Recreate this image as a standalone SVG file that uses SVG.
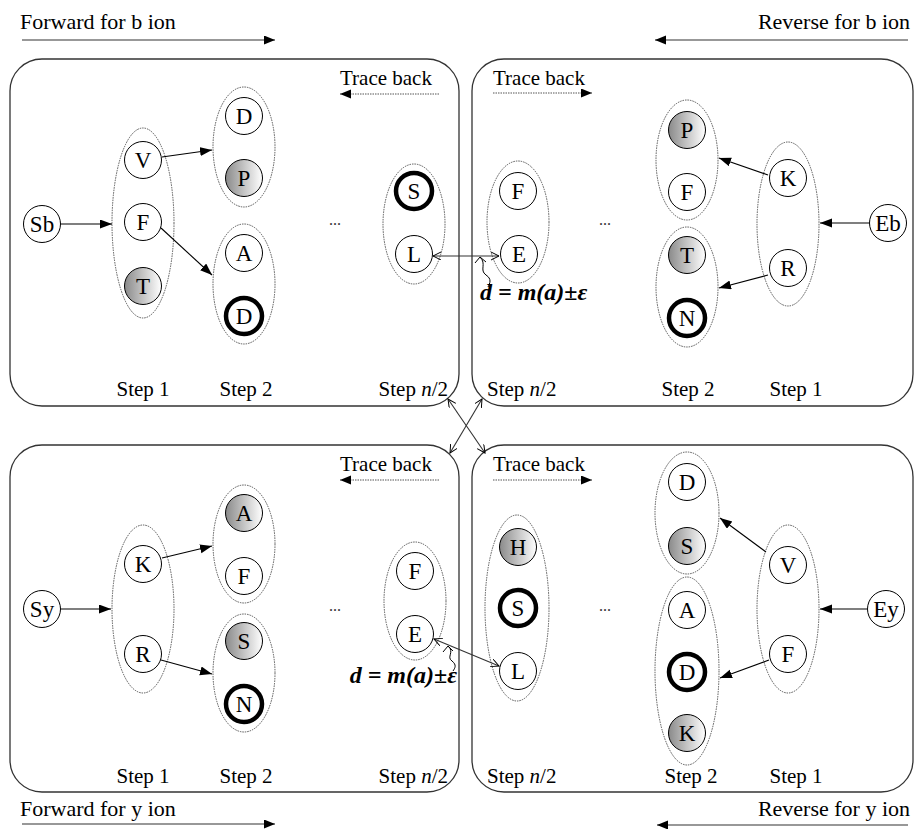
<svg xmlns="http://www.w3.org/2000/svg" width="914" height="829" viewBox="0 0 914 829">
  <defs>
    <linearGradient id="shade" x1="0" y1="0" x2="1" y2="0">
      <stop offset="0" stop-color="#8a8a8a"/>
      <stop offset="1" stop-color="#ffffff"/>
    </linearGradient>
    <marker id="head" markerUnits="userSpaceOnUse" markerWidth="13" markerHeight="10" refX="12" refY="4.5" orient="auto">
      <path d="M0,0 L12,4.5 L0,9 z" fill="#000"/>
    </marker>
    <marker id="headSmall" markerUnits="userSpaceOnUse" markerWidth="12" markerHeight="10" refX="11" refY="4.5" orient="auto">
      <path d="M0,0 L11,4.5 L0,9 z" fill="#000"/>
    </marker>
    <marker id="open" markerUnits="userSpaceOnUse" markerWidth="10" markerHeight="10" refX="8" refY="4" orient="auto-start-reverse">
      <path d="M0,0 L8,4 L0,8" fill="none" stroke="#000" stroke-width="1"/>
    </marker>
  </defs>
  <style>
    text { font-family: "Liberation Serif", "Times New Roman", serif; fill: #000; }
    .lbl { font-size: 21px; }
    .cap { font-size: 22px; }
    .node circle { fill: #fff; stroke: #000; stroke-width: 1; }
    .node.shaded circle { fill: url(#shade); }
    .node.bold circle { stroke-width: 4.5; }
    .node text { font-size: 23px; text-anchor: middle; }
    .group { fill: none; stroke: #555; stroke-width: 1; stroke-dasharray: 1.5 1; }
    .panel { fill: none; stroke: #333; stroke-width: 1.3; }
    .edge { stroke: #000; stroke-width: 1.1; fill: none; marker-end: url(#head); }
    .dir { stroke: #333; stroke-width: 1.2; fill: none; marker-end: url(#headSmall); }
    .trace { stroke: #555; stroke-width: 1; stroke-dasharray: 1.5 1; fill: none; marker-end: url(#headSmall); }
    .link { stroke: #333; stroke-width: 1.1; fill: none; marker-start: url(#open); marker-end: url(#open); }
    .note { font-size: 24px; font-weight: bold; font-style: italic; }
    .dots { font-size: 16px; fill: #333; text-anchor: middle; }
    .mid { text-anchor: middle; }
  </style>

  <!-- direction captions -->
  <g id="captions">
    <text class="cap" x="20" y="29">Forward for b ion</text>
    <text class="cap" x="910" y="29" text-anchor="end">Reverse for b ion</text>
    <text class="cap" x="20" y="816">Forward for y ion</text>
    <text class="cap" x="910" y="816" text-anchor="end">Reverse for y ion</text>
  </g>

  <!-- the four search panels -->
  <g id="panels">
    <rect id="panel-b-forward" class="panel" x="10" y="59" width="449" height="347" rx="32"/>
    <rect id="panel-b-reverse" class="panel" x="472" y="59" width="441" height="347" rx="32"/>
    <rect id="panel-y-forward" class="panel" x="10" y="445" width="449" height="347" rx="32"/>
    <rect id="panel-y-reverse" class="panel" x="472" y="445" width="441" height="347" rx="32"/>
  </g>

  <!-- candidate groups per step -->
  <g id="groups">
    <ellipse class="group" cx="143" cy="223" rx="31" ry="95"/>
    <ellipse class="group" cx="244" cy="147" rx="31" ry="60"/>
    <ellipse class="group" cx="244" cy="284" rx="31" ry="60"/>
    <ellipse class="group" cx="414" cy="224" rx="31" ry="60"/>
    <ellipse class="group" cx="518" cy="222" rx="31" ry="61"/>
    <ellipse class="group" cx="687" cy="160" rx="31" ry="60"/>
    <ellipse class="group" cx="687" cy="287" rx="31" ry="60"/>
    <ellipse class="group" cx="788" cy="224" rx="31" ry="82"/>

    <ellipse class="group" cx="143" cy="609" rx="31" ry="84"/>
    <ellipse class="group" cx="244" cy="544" rx="31" ry="59"/>
    <ellipse class="group" cx="244" cy="673" rx="31" ry="59"/>
    <ellipse class="group" cx="415" cy="601" rx="31" ry="59"/>
    <ellipse class="group" cx="517" cy="608" rx="32" ry="93"/>
    <ellipse class="group" cx="687" cy="513" rx="32" ry="61"/>
    <ellipse class="group" cx="687" cy="671" rx="32" ry="94"/>
    <ellipse class="group" cx="788" cy="609" rx="31" ry="84"/>
  </g>

  <!-- connectors -->
  <g id="connectors">
    <line class="dir" x1="22" y1="40" x2="275" y2="40"/>
    <line class="dir" x1="908" y1="40" x2="655" y2="40"/>
    <line class="dir" x1="22" y1="824" x2="275" y2="824"/>
    <line class="dir" x1="908" y1="825" x2="657" y2="825"/>

    <line class="trace" x1="439" y1="94" x2="340" y2="94"/>
    <line class="trace" x1="493" y1="93" x2="592" y2="93"/>
    <line class="trace" x1="439" y1="480" x2="340" y2="480"/>
    <line class="trace" x1="493" y1="480" x2="592" y2="480"/>

    <line class="edge" x1="61" y1="224" x2="112" y2="224"/>
    <line class="edge" x1="162" y1="157" x2="212" y2="150"/>
    <line class="edge" x1="161" y1="228" x2="212" y2="275"/>
    <line class="edge" x1="768" y1="175" x2="719" y2="158"/>
    <line class="edge" x1="768" y1="275" x2="719" y2="288"/>
    <line class="edge" x1="869" y1="223" x2="820" y2="223"/>

    <line class="edge" x1="61" y1="609" x2="111" y2="609"/>
    <line class="edge" x1="162" y1="558" x2="212" y2="546"/>
    <line class="edge" x1="161" y1="660" x2="212" y2="674"/>
    <line class="edge" x1="867" y1="609" x2="820" y2="609"/>
    <line class="edge" x1="766" y1="552" x2="720" y2="518"/>
    <line class="edge" x1="769" y1="660" x2="720" y2="678"/>

    <!-- mass-difference joins between the halves -->
    <line class="link" x1="433" y1="256" x2="499" y2="256"/>
    <line class="link" x1="434" y1="639" x2="499" y2="666"/>
    <line class="link" x1="448" y1="399" x2="485" y2="453"/>
    <line class="link" x1="482" y1="399" x2="450" y2="453"/>

    <!-- callout squiggles -->
    <path d="M475,263 L480,257 L486,262" fill="none" stroke="#000" stroke-width="1"/>
    <path d="M480,257 C487,264 479,270 486,275 C492,279 490,283 488,287" fill="none" stroke="#000" stroke-width="1"/>
    <path d="M443,652 L448,646 L453,651" fill="none" stroke="#000" stroke-width="1"/>
    <path d="M448,646 C455,652 446,657 452,661 C457,665 455,668 453,671" fill="none" stroke="#000" stroke-width="1"/>
  </g>

  <!-- panel b, forward -->
  <g id="node-Sb" class="node"><circle cx="42" cy="224" r="18.5"/><text x="42" y="232">Sb</text></g>
  <g id="node-b1-V" class="node"><circle cx="143" cy="160" r="18.5"/><text x="143" y="168">V</text></g>
  <g id="node-b1-F" class="node"><circle cx="143" cy="222" r="18.5"/><text x="143" y="230">F</text></g>
  <g id="node-b1-T" class="node shaded"><circle cx="143" cy="286" r="18.5"/><text x="143" y="294">T</text></g>
  <g id="node-b2-D" class="node"><circle cx="244" cy="116" r="18.5"/><text x="244" y="124">D</text></g>
  <g id="node-b2-P" class="node shaded"><circle cx="244" cy="178" r="18.5"/><text x="244" y="186">P</text></g>
  <g id="node-b2-A" class="node"><circle cx="244" cy="253" r="18.5"/><text x="244" y="261">A</text></g>
  <g id="node-b2-D2" class="node bold"><circle cx="244" cy="316" r="18"/><text x="244" y="324">D</text></g>
  <g id="node-bn-S" class="node bold"><circle cx="414" cy="191" r="18"/><text x="414" y="199">S</text></g>
  <g id="node-bn-L" class="node"><circle cx="414" cy="254" r="18.5"/><text x="414" y="262">L</text></g>

  <!-- panel b, reverse -->
  <g id="node-rb-F" class="node"><circle cx="518" cy="191" r="18.5"/><text x="518" y="199">F</text></g>
  <g id="node-rb-E" class="node"><circle cx="519" cy="254" r="18.5"/><text x="519" y="262">E</text></g>
  <g id="node-rb2-P" class="node shaded"><circle cx="687" cy="130" r="18.5"/><text x="687" y="138">P</text></g>
  <g id="node-rb2-F" class="node"><circle cx="687" cy="192" r="18.5"/><text x="687" y="200">F</text></g>
  <g id="node-rb2-T" class="node shaded"><circle cx="687" cy="255" r="18.5"/><text x="687" y="263">T</text></g>
  <g id="node-rb2-N" class="node bold"><circle cx="687" cy="318" r="18"/><text x="687" y="326">N</text></g>
  <g id="node-rb1-K" class="node"><circle cx="788" cy="178" r="18.5"/><text x="788" y="186">K</text></g>
  <g id="node-rb1-R" class="node"><circle cx="788" cy="268" r="18.5"/><text x="788" y="276">R</text></g>
  <g id="node-Eb" class="node"><circle cx="888" cy="223" r="18.5"/><text x="888" y="231">Eb</text></g>

  <!-- panel y, forward -->
  <g id="node-Sy" class="node"><circle cx="42" cy="609" r="18.5"/><text x="42" y="617">Sy</text></g>
  <g id="node-y1-K" class="node"><circle cx="143" cy="564" r="18.5"/><text x="143" y="572">K</text></g>
  <g id="node-y1-R" class="node"><circle cx="143" cy="654" r="18.5"/><text x="143" y="662">R</text></g>
  <g id="node-y2-A" class="node shaded"><circle cx="244" cy="513" r="18.5"/><text x="244" y="521">A</text></g>
  <g id="node-y2-F" class="node"><circle cx="244" cy="576" r="18.5"/><text x="244" y="584">F</text></g>
  <g id="node-y2-S" class="node shaded"><circle cx="244" cy="641" r="18.5"/><text x="244" y="649">S</text></g>
  <g id="node-y2-N" class="node bold"><circle cx="244" cy="704" r="18"/><text x="244" y="712">N</text></g>
  <g id="node-yn-F" class="node"><circle cx="415" cy="571" r="18.5"/><text x="415" y="579">F</text></g>
  <g id="node-yn-E" class="node"><circle cx="415" cy="634" r="18.5"/><text x="415" y="642">E</text></g>

  <!-- panel y, reverse -->
  <g id="node-ry-H" class="node shaded"><circle cx="518" cy="547" r="18.5"/><text x="518" y="555">H</text></g>
  <g id="node-ry-S" class="node bold"><circle cx="518" cy="608" r="18"/><text x="518" y="616">S</text></g>
  <g id="node-ry-L" class="node"><circle cx="518" cy="671" r="18.5"/><text x="518" y="679">L</text></g>
  <g id="node-ry2-D" class="node"><circle cx="687" cy="482" r="18.5"/><text x="687" y="490">D</text></g>
  <g id="node-ry2-S" class="node shaded"><circle cx="687" cy="546" r="18.5"/><text x="687" y="554">S</text></g>
  <g id="node-ry2-A" class="node"><circle cx="687" cy="610" r="18.5"/><text x="687" y="618">A</text></g>
  <g id="node-ry2-D2" class="node bold"><circle cx="687" cy="672" r="18"/><text x="687" y="680">D</text></g>
  <g id="node-ry2-K" class="node shaded"><circle cx="687" cy="733" r="18.5"/><text x="687" y="741">K</text></g>
  <g id="node-ry1-V" class="node"><circle cx="788" cy="565" r="18.5"/><text x="788" y="573">V</text></g>
  <g id="node-ry1-F" class="node"><circle cx="788" cy="654" r="18.5"/><text x="788" y="662">F</text></g>
  <g id="node-Ey" class="node"><circle cx="886" cy="609" r="18.5"/><text x="886" y="617">Ey</text></g>

  <!-- labels inside panels -->
  <g id="labels">
    <text class="lbl" x="340" y="85">Trace back</text>
    <text class="lbl" x="493" y="85">Trace back</text>
    <text class="lbl" x="340" y="471">Trace back</text>
    <text class="lbl" x="493" y="471">Trace back</text>

    <text class="dots" x="335" y="225">...</text>
    <text class="dots" x="605" y="225">...</text>
    <text class="dots" x="335" y="611">...</text>
    <text class="dots" x="605" y="611">...</text>

    <text class="note" x="480" y="300">d = m(a)±ε</text>
    <text class="note" x="457" y="683" text-anchor="end">d = m(a)±ε</text>

    <text class="lbl mid" x="143" y="396">Step 1</text>
    <text class="lbl mid" x="246" y="396">Step 2</text>
    <text class="lbl" x="448" y="396" text-anchor="end">Step <tspan font-style="italic">n</tspan>/2</text>
    <text class="lbl" x="487" y="396">Step <tspan font-style="italic">n</tspan>/2</text>
    <text class="lbl mid" x="688" y="396">Step 2</text>
    <text class="lbl mid" x="796" y="396">Step 1</text>

    <text class="lbl mid" x="143" y="783">Step 1</text>
    <text class="lbl mid" x="246" y="783">Step 2</text>
    <text class="lbl" x="448" y="783" text-anchor="end">Step <tspan font-style="italic">n</tspan>/2</text>
    <text class="lbl" x="487" y="783">Step <tspan font-style="italic">n</tspan>/2</text>
    <text class="lbl mid" x="691" y="783">Step 2</text>
    <text class="lbl mid" x="796" y="783">Step 1</text>
  </g>
</svg>
